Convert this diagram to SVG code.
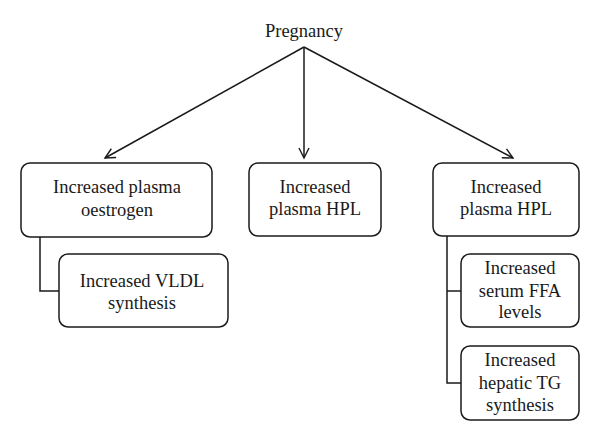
<svg xmlns="http://www.w3.org/2000/svg" width="600" height="441" viewBox="0 0 600 441">
<defs>
<marker id="arr" markerUnits="userSpaceOnUse" markerWidth="14" markerHeight="14" refX="11" refY="6" orient="auto">
<path d="M1,1 L11,6 L1,11" fill="none" stroke="#1a1a1a" stroke-width="1.4"/>
</marker>
<style>
rect{fill:#fff;stroke:#1a1a1a;stroke-width:1.5}
text{font-family:"Liberation Serif","Times New Roman",serif;font-size:18.5px;fill:#1a1a1a;text-anchor:middle}
.c{fill:none;stroke:#1a1a1a;stroke-width:1.5}
</style>
</defs>
<rect x="0" y="0" width="600" height="441" style="fill:#fff;stroke:none"/>
<g id="connectors">
<line class="c" x1="304" y1="47" x2="105" y2="158" marker-end="url(#arr)"/>
<line class="c" x1="304" y1="47" x2="304" y2="158" marker-end="url(#arr)"/>
<line class="c" x1="304" y1="47" x2="513" y2="158" marker-end="url(#arr)"/>
<polyline class="c" points="40,237 40,291 59,291"/>
<polyline class="c" points="447,236 447,383 461,383"/>
<line class="c" x1="447" y1="291" x2="461" y2="291"/>
</g>
<g id="pregnancy"><text x="304" y="37">Pregnancy</text></g>
<g id="oestrogen">
<rect x="21" y="163" width="191" height="74" rx="9"/>
<text x="117" y="193">Increased plasma</text>
<text x="117" y="216">oestrogen</text>
</g>
<g id="hpl1">
<rect x="249" y="163" width="132" height="73" rx="9"/>
<text x="315" y="193">Increased</text>
<text x="315" y="215">plasma HPL</text>
</g>
<g id="hpl2">
<rect x="433" y="163" width="146" height="73" rx="9"/>
<text x="506" y="193">Increased</text>
<text x="506" y="215">plasma HPL</text>
</g>
<g id="vldl">
<rect x="59" y="254" width="169" height="73" rx="9"/>
<text x="142" y="287">Increased VLDL</text>
<text x="142" y="309">synthesis</text>
</g>
<g id="ffa">
<rect x="461" y="254" width="118" height="73" rx="9"/>
<text x="520" y="274">Increased</text>
<text x="520" y="297">serum FFA</text>
<text x="520" y="318">levels</text>
</g>
<g id="tg">
<rect x="461" y="346" width="118" height="74" rx="9"/>
<text x="520" y="366">Increased</text>
<text x="520" y="389">hepatic TG</text>
<text x="520" y="411">synthesis</text>
</g>
</svg>
